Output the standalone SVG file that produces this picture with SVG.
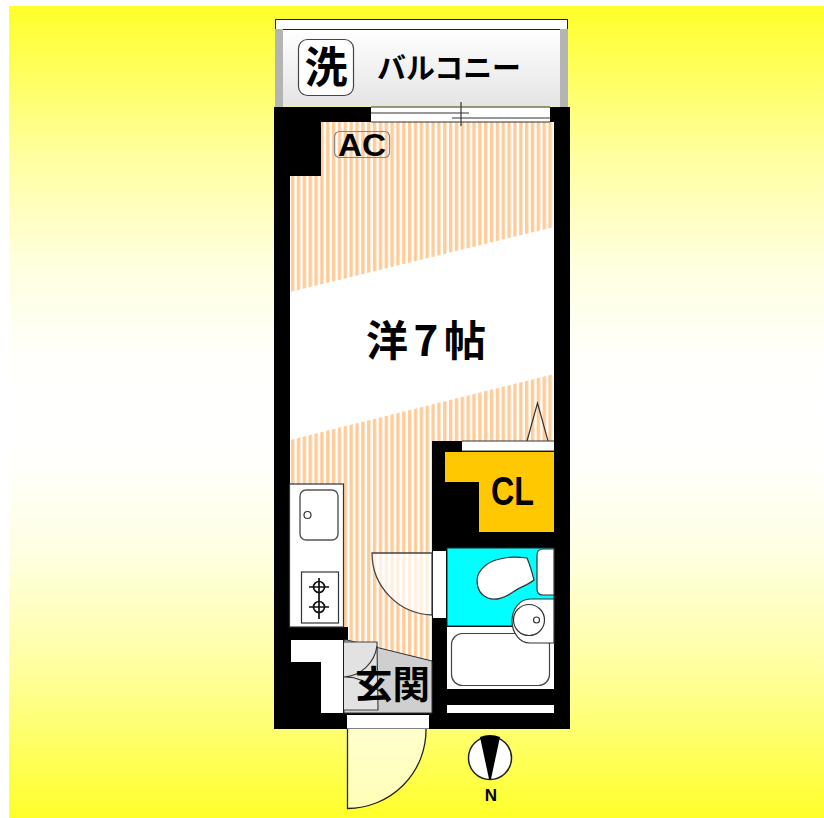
<svg xmlns="http://www.w3.org/2000/svg" width="824" height="818" viewBox="0 0 824 818">
<style>
.jp{font-family:"Noto Sans CJK JP","Liberation Sans",sans-serif;font-weight:700;fill:#000}
.en{font-family:"Liberation Sans","Noto Sans",sans-serif;font-weight:700;fill:#000}
.ln{fill:none;stroke:#333;stroke-width:1.2}
.wt{fill:#fff;stroke:#333;stroke-width:1.2}
.w{fill:#fff}
.k{fill:#000}
</style>
<defs>
<linearGradient id="bg" x1="0" y1="0" x2="0" y2="1">
<stop offset="0" stop-color="#ffff2a"/><stop offset=".185" stop-color="#ffffa0"/><stop offset=".325" stop-color="#ffffe2"/><stop offset=".43" stop-color="#fffffb"/><stop offset=".5" stop-color="#fff"/><stop offset=".57" stop-color="#fffffb"/><stop offset=".675" stop-color="#ffffe2"/><stop offset=".815" stop-color="#ffffa0"/><stop offset="1" stop-color="#ffff2a"/>
</linearGradient>
<linearGradient id="balc" x1="0" y1="0" x2="0" y2="1">
<stop offset="0" stop-color="#fff"/><stop offset="1" stop-color="#e4e4e4"/>
</linearGradient>
<pattern id="st" width="5.85" height="6" patternUnits="userSpaceOnUse" x="290">
<rect width="5.85" height="6" fill="#fff"/><rect x="1" width="3.4" height="6" fill="#ffcc99"/>
</pattern>
</defs>
<rect width="824" height="818" fill="#fff"/>
<rect x="9" y="6" width="815" height="812" fill="url(#bg)"/>
<g id="balcony">
<rect x="275.500" y="19.500" width="292" height="14" fill="#fff" stroke="#222"/>
<rect x="275" y="29" width="8" height="78" fill="#b4b4b4"/>
<rect x="560" y="29" width="8" height="78" fill="#b4b4b4"/>
<rect x="283" y="29.500" width="277" height="77" fill="url(#balc)"/>
<line x1="283" y1="29.500" x2="560" y2="29.500" stroke="#222"/>
<rect x="298.500" y="39.500" width="55" height="56" rx="9" fill="#fff" stroke="#444" stroke-width="1.2"/>
<text class="jp" x="326" y="83" font-size="43" text-anchor="middle">洗</text>
<text class="jp" x="377" y="79" font-size="29" textLength="144" lengthAdjust="spacingAndGlyphs">バルコニー</text>
</g>
<g id="walls">
<rect x="274" y="107" width="296" height="622" class="k"/>
</g>
<g id="room">
<path d="M321 122H554V661L432 661V441H432V661L344 640V627H290V176H321Z" fill="url(#st)"/>
<path d="M290 292L554 227V374L290 440Z" fill="#fff"/>
<rect x="432" y="441" width="122" height="220" class="k"/>
<rect x="289" y="627" width="59" height="13" class="k"/>
<rect x="334.500" y="131.500" width="55" height="26" rx="5" fill="none" stroke="#888" stroke-width="1.2"/>
<text class="en" x="338" y="156" font-size="32" textLength="48" lengthAdjust="spacingAndGlyphs">AC</text>
<text class="jp" x="366" y="356" font-size="42" textLength="120">洋7帖</text>
<path class="ln" d="M527 441L537.500 403L548 441"/>
</g>
<g id="window">
<rect x="371" y="107" width="179" height="15" class="w"/>
<path class="ln" d="M371 113H469M452 118H550M371 122H550M461 102V126M371 107H550"/>
</g>
<g id="closet">
<rect x="462" y="441" width="92" height="10" class="w"/>
<path class="ln" d="M462 441H554M462 451H554"/>
<path d="M445 452H554V532H479V482H445Z" fill="#ffc800"/>
<text class="en" x="491" y="505" font-size="41" textLength="43" lengthAdjust="spacingAndGlyphs">CL</text>
</g>
<g id="bathroom">
<rect x="447" y="548" width="107" height="78" fill="#00ffff" stroke="#222"/>
<rect x="447" y="627" width="107" height="62" class="w"/>
<rect x="451.500" y="633.500" width="98" height="52" rx="11" fill="#fff" stroke="#444" stroke-width="1.200"/>
<path d="M554 599H530A18 22 0 0 0 530 643H554Z" class="wt"/>
<circle cx="529" cy="620" r="15.500" class="wt"/>
<circle cx="536.500" cy="620" r="3" class="wt"/>
<path d="M554 549H543Q537 549 537 555V589Q537 595 543 595H554Z" class="wt"/>
<path d="M477 580C478 568 490 561 500 559C510 556 520 557 527 558C530 565 532 572 534 580C528 585 520 587 513 592C505 598 495 601 488 598C480 595 477 588 477 580Z" class="wt"/>
<rect x="433" y="551" width="13" height="67" class="w"/>
<rect x="447" y="705" width="107" height="8" class="w"/>
</g>
<g id="kitchen">
<rect x="289.500" y="484" width="54" height="143" class="wt"/>
<rect x="300" y="490" width="38" height="50" rx="6" fill="#fff" stroke="#555" stroke-width="1.4"/>
<circle cx="307.500" cy="515" r="3.500" class="wt"/>
<rect x="301.500" y="572" width="37" height="51" class="wt"/>
<g stroke="#111" stroke-width="1.700" fill="none">
<circle cx="319" cy="587" r="5.500"/><circle cx="319" cy="607" r="5.500"/>
<path d="M319 578V619M309 587H329M309 607H329"/>
</g>
</g>
<g id="entrance">
<path d="M347 640L432 661V713H344V640Z" fill="#cfcfcf" stroke="#333"/>
<path d="M291 640H343V713H321V662H291Z" class="w"/>
<path d="M344 642H377L378 710H344" fill="#e2e2e2" stroke="#444" stroke-width="1.200"/>
<path class="ln" d="M377 646A36 36 0 0 1 344 677Q360 676 379 691"/>
<text class="jp" x="355" y="698" font-size="38" textLength="75" lengthAdjust="spacingAndGlyphs">玄関</text>
<rect x="347" y="715" width="82" height="13.500" class="w"/>
</g>
<g id="doors">
<path d="M432 553H372A62 62 0 0 0 432 615Z" fill="#fff" fill-opacity=".7" stroke="#444" stroke-width="1.300"/>
<path d="M347.500 729V808.500A79 79 0 0 0 426 729" fill="#fff" fill-opacity=".65" stroke="#222" stroke-width="1.300"/>
</g>
<g id="compass">
<circle cx="490" cy="758" r="21.500" fill="#fff" stroke="#222" stroke-width="1.500"/>
<path d="M480 737Q490 733 500 737L491 779H489Z" class="k"/>
<text class="en" x="491" y="801" font-size="17" text-anchor="middle">N</text>
</g>
</svg>
